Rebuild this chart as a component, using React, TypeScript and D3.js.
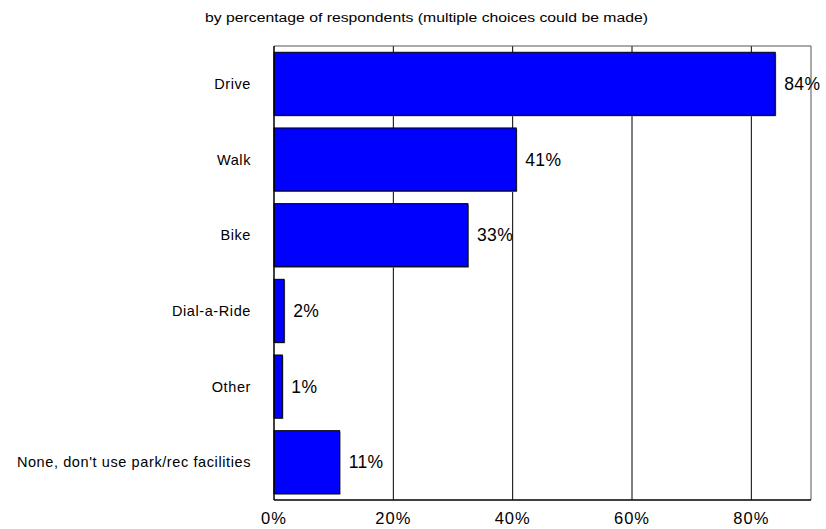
import React from "react";
import * as d3 from "d3";

const categories = ["Drive", "Walk", "Bike", "Dial-a-Ride", "Other", "None, don't use park/rec facilities"];
const values = [84, 40.6, 32.5, 1.7, 1.4, 11];
const valueLabels = ["84%", "41%", "33%", "2%", "1%", "11%"];
const ticks = [0, 20, 40, 60, 80];
const title = "by percentage of respondents (multiple choices could be made)";

export default function App() {
  const W = 826, H = 529;
  const left = 274, right = 811, top = 46, bottom = 500;
  const x = d3.scaleLinear().domain([0, 90]).range([left, right]);
  const y = d3.scaleBand().domain(categories).range([top, bottom]).paddingInner(0.167).paddingOuter(0.083);
  const font = "'Liberation Sans', Arial, sans-serif";
  return (
    <svg width={W} height={H} style={{ position: "absolute", left: 0, top: 0, background: "#fff" }} fontFamily={font}>
      <text x={205} y={22} fontSize={12.5} fill="#000" textLength={443} lengthAdjust="spacingAndGlyphs">{title}</text>
      {ticks.filter(t => t > 0).map(t => (
        <line key={t} x1={x(t)} x2={x(t)} y1={top} y2={bottom} stroke="#000" strokeWidth={1} />
      ))}
      <line x1={right} x2={right} y1={top} y2={bottom} stroke="#555" strokeWidth={1} />
      <line x1={left} x2={right} y1={top} y2={top} stroke="#555" strokeWidth={1} />
      {categories.map((c, i) => {
        const y0 = y(c)!;
        const h = y.bandwidth();
        const w = x(values[i]) - x(0);
        return (
          <g key={c}>
            <rect x={x(0) + 1} y={y0 + 1} width={w} height={h} fill="#888" />
            <rect x={x(0)} y={y0} width={w} height={h} fill="#0000ff" stroke="#000" strokeWidth={1} />
            <text x={x(values[i]) + 9} y={y0 + h / 2} dy="0.36em" fontSize={17.5} letterSpacing={0.4} fill="#000">{valueLabels[i]}</text>
            <text x={251} y={y0 + h / 2} dy="0.36em" fontSize={14.5} letterSpacing={0.6} textAnchor="end" fill="#000">{c}</text>
          </g>
        );
      })}
      <line x1={left} x2={left} y1={top} y2={bottom} stroke="#000" strokeWidth={1.5} />
      <line x1={left} x2={right} y1={bottom} y2={bottom} stroke="#000" strokeWidth={1.5} />
      {ticks.map(t => (
        <text key={t} x={x(t)} y={524} fontSize={16.5} letterSpacing={1} textAnchor="middle" fill="#000">{t}%</text>
      ))}
    </svg>
  );
}
